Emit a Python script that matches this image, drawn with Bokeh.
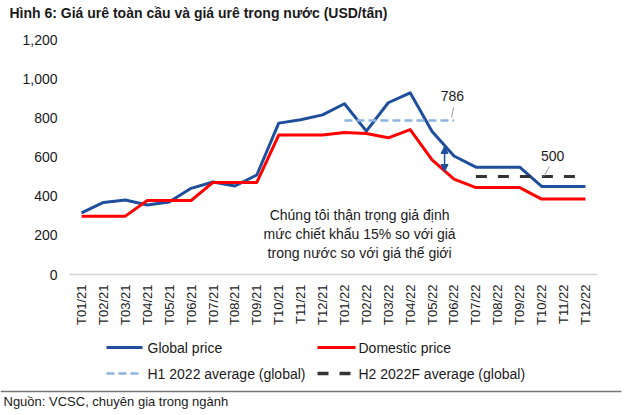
from bokeh.plotting import figure
from bokeh.embed import file_html
from bokeh.resources import INLINE
from bokeh.models import (Range1d, FixedTicker, NumeralTickFormatter, Label, Arrow,
                          NormalHead, LinearAxis)
import math

# ---- data ----
categories = ["T01/21", "T02/21", "T03/21", "T04/21", "T05/21", "T06/21",
              "T07/21", "T08/21", "T09/21", "T10/21", "T11/21", "T12/21",
              "T01/22", "T02/22", "T03/22", "T04/22", "T05/22", "T06/22",
              "T07/22", "T08/22", "T09/22", "T10/22", "T11/22", "T12/22"]
global_price = [315, 368, 380, 355, 370, 440, 472, 452, 508, 773, 790, 815,
                872, 732, 877, 928, 730, 605, 548, 548, 548, 450, 450, 450]
domestic_price = [298, 298, 298, 378, 378, 378, 470, 470, 470, 712, 712, 712,
                  725, 720, 698, 740, 585, 487, 444, 444, 444, 385, 385, 385]
h1_months = ["T01/22", "T02/22", "T03/22", "T04/22", "T05/22", "T06/22"]
h1_avg = 786
h2_months = ["T07/22", "T08/22", "T09/22", "T10/22", "T11/22", "T12/22"]
h2_avg = 500
y_ticks = [0, 200, 400, 600, 800, 1000, 1200]

BLUE = "#1f4e9c"
RED = "#ff0000"
LBLUE = "#8db3e2"
DARK = "#333333"
FONT = "Liberation Sans"
TXT = "#1a1a1a"

xs = list(range(len(categories)))
n = len(categories)

# canvas geometry: plot area spans px 69..597 horizontally, value 0 at px 274, 1200 at px 39
W, H = 630, 415
PX_L, PX_R, PX_B, PX_T = 69.0, 597.0, 274.0, 39.0
x_lo, x_hi = -0.55, n - 1 + 0.55
y_lo, y_hi = 0, 1200
ux = (x_hi - x_lo) / (PX_R - PX_L)
uy = (y_hi - y_lo) / (PX_B - PX_T)

p = figure(width=W, height=H, min_border=0,
           x_range=Range1d(x_lo - PX_L * ux, x_hi + (W - PX_R) * ux),
           y_range=Range1d(y_lo - (H - PX_B) * uy, y_hi + PX_T * uy),
           x_axis_type=None, y_axis_type=None,
           output_backend="svg", toolbar_location=None)
p.outline_line_color = None
p.xgrid.visible = False
p.ygrid.visible = False

# y axis
yax = LinearAxis(fixed_location=x_lo, bounds=(y_lo, y_hi))
yax.ticker = FixedTicker(ticks=y_ticks)
yax.formatter = NumeralTickFormatter(format="0,0")
yax.axis_line_color = None
yax.major_tick_line_color = None
yax.minor_tick_line_color = None
yax.major_tick_out = 0
yax.major_tick_in = 0
yax.major_label_standoff = 12
yax.major_label_text_font = FONT
yax.major_label_text_font_size = "14px"
yax.major_label_text_color = TXT
p.add_layout(yax, "left")

# x axis
xax = LinearAxis(fixed_location=y_lo, bounds=(x_lo, x_hi))
xax.ticker = FixedTicker(ticks=xs)
xax.major_label_overrides = {i: c for i, c in zip(xs, categories)}
xax.major_label_orientation = math.pi / 2
xax.axis_line_color = "#d4d4d4"
xax.axis_line_width = 1.5
xax.major_tick_line_color = None
xax.minor_tick_line_color = None
xax.major_tick_out = 0
xax.major_tick_in = 0
xax.major_label_standoff = 10
xax.major_label_text_font = FONT
xax.major_label_text_font_size = "13px"
xax.major_label_text_color = TXT
p.add_layout(xax, "below")

# series
p.line(xs, global_price, line_color=BLUE, line_width=3, line_join="round")
p.line(xs, domestic_price, line_color=RED, line_width=3, line_join="round")

h1_x = [categories.index(c) for c in h1_months]
h2_x = [categories.index(c) for c in h2_months]
p.line(h1_x, [h1_avg] * len(h1_x), line_color=LBLUE, line_width=2.5, line_dash="8 4")
p.line(h2_x, [h2_avg] * len(h2_x), line_color=DARK, line_width=3, line_dash="11 11")

# annotations: average labels with leaders
p.segment(x0=[16.89, 21.09], y0=[802, 500], x1=[16.98, 21.36], y1=[853, 552],
          line_color="#999999", line_width=1)
p.add_layout(Label(x=16.93, y=914, text=str(h1_avg), text_align="center", text_baseline="middle",
                   text_font=FONT, text_font_size="14px", text_color=TXT))
p.add_layout(Label(x=21.5, y=603, text=str(h2_avg), text_align="center", text_baseline="middle",
                   text_font=FONT, text_font_size="14px", text_color=TXT))

# discount arrow
p.add_layout(Arrow(x_start=16.57, y_start=654, x_end=16.57, y_end=526,
                   start=NormalHead(size=7, fill_color=BLUE, line_color=BLUE),
                   end=NormalHead(size=7, fill_color=BLUE, line_color=BLUE),
                   line_color=BLUE, line_width=1.5))

# note text
note_lines = ["Chúng tôi thận trọng giả định",
              "mức chiết khấu 15% so với giá",
              "trong nước so với giá thế giới"]
for t, yv in zip(note_lines, [306, 208, 109]):
    p.add_layout(Label(x=12.69, y=yv, text=t, text_align="center", text_baseline="middle",
                       text_font=FONT, text_font_size="14px", text_color=TXT))

# title
p.add_layout(Label(x=9, y=12, x_units="canvas", y_units="canvas",
                   text="Hình 6: Giá urê toàn cầu và giá urê trong nước (USD/tấn)",
                   text_align="left", text_baseline="middle", text_font=FONT,
                   text_font_size="14px", text_font_style="bold", text_color=TXT))

# legend (manual)
legend_items = [
    ("Global price", BLUE, "solid", 3, 106, 142, 347),
    ("Domestic price", RED, "solid", 3, 317, 355, 347),
    ("H1 2022 average (global)", LBLUE, "8 4", 2.5, 106, 140, 373),
    ("H2 2022F average (global)", DARK, "11 11", 3.5, 317, 351, 373),
]
for label, col, dash, lw, x0, x1, yy in legend_items:
    p.add_layout(Arrow(x_start=x0, y_start=yy, x_end=x1, y_end=yy,
                       start_units="canvas", end_units="canvas", end=None,
                       line_color=col, line_width=lw, line_dash=dash))
    tx = 147 if x0 < 200 else 358
    p.add_layout(Label(x=tx, y=yy, x_units="canvas", y_units="canvas", text=label,
                       text_align="left", text_baseline="middle", text_font=FONT,
                       text_font_size="14px", text_color=TXT))

# separator and source
p.add_layout(Arrow(x_start=0, y_start=391, x_end=621, y_end=391,
                   start_units="canvas", end_units="canvas", end=None,
                   line_color="#777777", line_width=1.5))
p.add_layout(Label(x=3, y=401, x_units="canvas", y_units="canvas",
                   text="Nguồn: VCSC, chuyên gia trong ngành",
                   text_align="left", text_baseline="middle", text_font=FONT,
                   text_font_size="13px", text_color=TXT))

open("out.html", "w").write(file_html(p, INLINE))
